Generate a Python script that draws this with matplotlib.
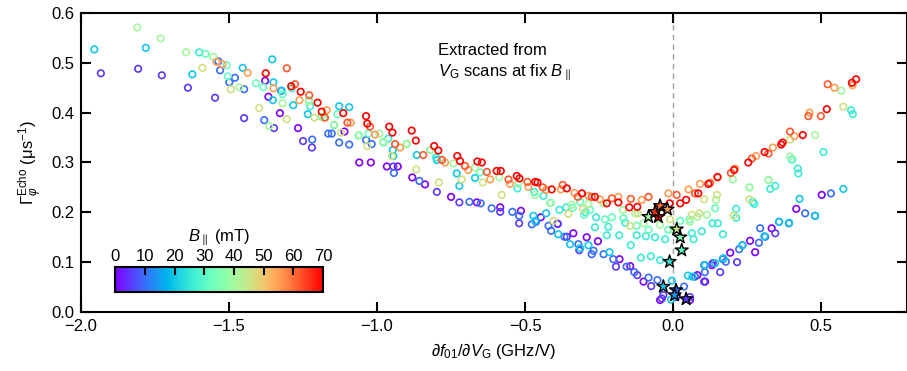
import numpy as np
import matplotlib
matplotlib.use("Agg")
import matplotlib.pyplot as plt
from matplotlib import cm, colors, ticker

plt.rcParams['font.family'] = ['Liberation Sans', 'DejaVu Sans']
plt.rcParams['mathtext.fontset'] = 'custom'
plt.rcParams['mathtext.rm'] = 'Liberation Sans'
plt.rcParams['mathtext.it'] = 'Liberation Sans:italic'
plt.rcParams['mathtext.bf'] = 'Liberation Sans:bold'

# ---- data: (B field in mT, dfdV, Gamma) per scan ----
b0_x = [-1.378, -1.367, -1.328, -1.267, -1.11, -1.06, -1.021, -0.967, -0.93, -0.881, -0.838, -0.75, -0.663,
        -0.584, -0.514, -0.447, -0.39, -0.337, -0.292, -0.254, -0.181, -0.145, -0.1, -0.044, 0.057, 0.082,
        0.108, 0.131, 0.193, 0.26, 0.277, 0.333, 0.416, 0.502]
b0_y = [0.464, 0.432, 0.399, 0.369, 0.362, 0.30, 0.30, 0.292, 0.292, 0.27, 0.256, 0.231, 0.22,
        0.21, 0.203, 0.19, 0.177, 0.158, 0.15, 0.142, 0.106, 0.092, 0.061, 0.024, 0.024, 0.074,
        0.061, 0.094, 0.119, 0.143, 0.12, 0.168, 0.207, 0.235]

b5_x = [-1.933, -1.807, -1.727, -1.639, -1.547, -1.449, -1.348, -1.25, -1.22, -0.945, -0.798, -0.722, -0.584,
        -0.52, -0.39, -0.359, -0.317, -0.193, -0.121, -0.074, -0.038, -0.033, 0.01, 0.057, 0.105, 0.134,
        0.159, 0.216, 0.345]
b5_y = [0.479, 0.488, 0.475, 0.45, 0.43, 0.389, 0.369, 0.343, 0.33, 0.292, 0.241, 0.22, 0.201,
        0.178, 0.177, 0.151, 0.124, 0.091, 0.074, 0.052, 0.027, 0.034, 0.03, 0.03, 0.061, 0.098,
        0.08, 0.10, 0.158]

b10_x = [-1.536, -1.53, -1.499, -1.48, -1.449, -1.381, -1.324, -1.219, -1.165, -1.153, -1.128, -1.094,
         -1.037, -1.018, -0.943, -0.857, -0.688, -0.65, -0.613, -0.543, -0.52, -0.477, -0.463, -0.421,
         -0.412, -0.367, -0.32, -0.275, -0.269, -0.235, -0.202, -0.157, -0.131, -0.083, -0.053, 0.037,
         0.074, 0.105, 0.107, 0.168, 0.178, 0.223, 0.234, 0.29, 0.294, 0.311, 0.358, 0.391, 0.446, 0.479, 0.533]
b10_y = [0.503, 0.485, 0.461, 0.47, 0.447, 0.385, 0.444, 0.346, 0.358, 0.358, 0.34, 0.336,
         0.345, 0.337, 0.279, 0.263, 0.221, 0.218, 0.208, 0.201, 0.193, 0.176, 0.181, 0.173,
         0.163, 0.151, 0.136, 0.116, 0.123, 0.116, 0.106, 0.091, 0.08, 0.069, 0.064, 0.051,
         0.071, 0.094, 0.08, 0.106, 0.101, 0.126, 0.134, 0.139, 0.168, 0.151, 0.181, 0.178, 0.198, 0.193, 0.238]

b20_x = [-1.955, -1.781, -1.624, -1.454, -1.354, -1.35, -1.322, -1.352, -1.283, -1.234, -1.128, -1.094,
         -0.947, -0.945, -0.866, -0.798, -0.731, -0.722, -0.669, -0.472, -0.466, -0.429, -0.388, -0.348,
         -0.314, -0.286, -0.215, -0.004, -0.007, 0.05, 0.065, 0.108, 0.142, 0.17, 0.234, 0.308, 0.358,
         0.392, 0.427, 0.48, 0.575]
b20_y = [0.527, 0.53, 0.477, 0.49, 0.507, 0.461, 0.444, 0.425, 0.415, 0.397, 0.413, 0.411,
         0.325, 0.313, 0.315, 0.305, 0.278, 0.253, 0.269, 0.193, 0.183, 0.198, 0.156, 0.136,
         0.128, 0.134, 0.12, 0.063, 0.025, 0.073, 0.071, 0.094, 0.098, 0.108, 0.134, 0.152, 0.181,
         0.179, 0.227, 0.193, 0.247]

b26_x = [-1.601, -1.288, -1.226, -1.145, -0.962, -0.801, -0.526, -0.469, -0.438, -0.384, -0.361, -0.295,
         -0.26, -0.264, -0.219, -0.224, -0.182, -0.162, -0.143, -0.123, -0.109, -0.092, -0.075, -0.061,
         -0.044, -0.027, 0.063, 0.069, 0.097, 0.133, 0.151, 0.168, 0.213, 0.213, 0.269, 0.274, 0.328,
         0.345, 0.401, 0.421, 0.423, 0.508, 0.601, 0.607]
b26_y = [0.521, 0.449, 0.413, 0.375, 0.348, 0.31, 0.248, 0.241, 0.233, 0.205, 0.21, 0.2,
         0.19, 0.17, 0.171, 0.154, 0.154, 0.179, 0.134, 0.154, 0.109, 0.152, 0.112, 0.15,
         0.104, 0.146, 0.158, 0.146, 0.162, 0.178, 0.178, 0.156, 0.207, 0.189, 0.221, 0.217, 0.247,
         0.253, 0.306, 0.288, 0.278, 0.321, 0.405, 0.397]

b32_x = [-1.579, -1.508, -1.504, -1.409, -1.384, -1.319, -1.23, -1.189, -1.134, -1.063, -1.029, -0.979,
         -0.9, -0.821, -0.781, -0.652, -0.413, -0.339, -0.314, -0.301, -0.28, -0.23, -0.207, -0.168,
         -0.123, -0.083, -0.016, 0.024, 0.055, 0.142, 0.258, 0.322, 0.403]
b32_y = [0.518, 0.495, 0.473, 0.459, 0.451, 0.437, 0.425, 0.392, 0.397, 0.354, 0.358, 0.34,
         0.337, 0.325, 0.306, 0.28, 0.219, 0.209, 0.221, 0.195, 0.205, 0.186, 0.19, 0.188,
         0.173, 0.165, 0.165, 0.183, 0.186, 0.208, 0.25, 0.265, 0.306]

b40_x = [-1.81, -1.731, -1.645, -1.553, -1.465, -1.364, -1.319, -1.231, -1.181, -1.145, -1.06, -0.992,
         -0.979, -0.9, -0.819, -0.742, -0.669, -0.587, -0.523, -0.466, -0.416, -0.342, -0.286, -0.235,
         -0.17, -0.128, -0.1, -0.044, 0.001, 0.057, 0.082, 0.114, 0.145, 0.202, 0.258, 0.322, 0.395,
         0.48, 0.568]
b40_y = [0.571, 0.549, 0.521, 0.512, 0.451, 0.373, 0.419, 0.423, 0.39, 0.376, 0.355, 0.358,
         0.342, 0.338, 0.325, 0.298, 0.29, 0.27, 0.258, 0.235, 0.219, 0.215, 0.217, 0.218,
         0.205, 0.198, 0.178, 0.175, 0.165, 0.181, 0.191, 0.195, 0.225, 0.266, 0.25, 0.265, 0.312,
         0.355, 0.444]

b46_x = [-1.59, -1.494, -1.398, -1.305, -1.212, -1.122, -1.033, -0.95, -0.868, -0.791, -0.714, -0.643,
         -0.579, -0.404, -0.354, -0.305, -0.145, -0.119, -0.01, 0.063, 0.088, 0.105, 0.148, 0.204,
         0.258, 0.395, 0.575]
b46_y = [0.49, 0.447, 0.409, 0.387, 0.39, 0.36, 0.333, 0.313, 0.286, 0.26, 0.266, 0.26,
         0.235, 0.183, 0.197, 0.207, 0.173, 0.198, 0.186, 0.195, 0.198, 0.226, 0.235, 0.193,
         0.226, 0.346, 0.412]

b55_x = [-1.542, -1.522, -1.437, -1.35, -1.262, -1.17, -1.089, -1.007, -0.922, -0.77, -0.692, -0.618,
         -0.551, -0.489, -0.429, -0.379, -0.333, -0.286, -0.247, -0.185, -0.106, -0.016, 0.052, 0.091,
         0.15, 0.209, 0.28, 0.337, 0.41, 0.461, 0.545, 0.606]
b55_y = [0.502, 0.497, 0.48, 0.449, 0.425, 0.405, 0.38, 0.356, 0.33, 0.30, 0.285, 0.266,
         0.257, 0.251, 0.245, 0.246, 0.239, 0.233, 0.226, 0.231, 0.225, 0.238, 0.246, 0.257,
         0.27, 0.288, 0.313, 0.33, 0.353, 0.40, 0.45, 0.455]

b62_x = [-1.305, -1.277, -1.229, -1.176, -1.1, -1.024, -0.939, -0.844, -0.781, -0.703, -0.629, -0.556,
         -0.492, -0.44, -0.373, -0.322, -0.275, -0.207, -0.143, -0.083, 0.012, 0.074, 0.125, 0.195,
         0.266, 0.322, 0.395, 0.457, 0.499, 0.522]
b62_y = [0.489, 0.457, 0.435, 0.39, 0.38, 0.372, 0.337, 0.315, 0.305, 0.293, 0.281, 0.266,
         0.261, 0.25, 0.255, 0.231, 0.231, 0.228, 0.227, 0.231, 0.235, 0.238, 0.259, 0.279,
         0.308, 0.318, 0.362, 0.393, 0.393, 0.457]

b70_x = [-1.376, -1.29, -1.258, -1.201, -1.187, -1.114, -1.037, -1.033, -0.959, -0.948, -0.883, -0.869,
         -0.807, -0.793, -0.729, -0.72, -0.661, -0.646, -0.596, -0.582, -0.528, -0.519, -0.466, -0.458,
         -0.41, -0.359, -0.308, -0.264, -0.224, -0.185, -0.148, -0.121, -0.012, 0.024, 0.044, 0.085,
         0.119, 0.15, 0.206, 0.254, 0.309, 0.365, 0.37, 0.438, 0.519, 0.604, 0.618]
b70_y = [0.479, 0.453, 0.442, 0.42, 0.402, 0.399, 0.393, 0.378, 0.372, 0.36, 0.364, 0.344,
         0.333, 0.324, 0.313, 0.303, 0.302, 0.30, 0.283, 0.283, 0.273, 0.268, 0.261, 0.26,
         0.246, 0.248, 0.238, 0.231, 0.218, 0.22, 0.21, 0.211, 0.218, 0.218, 0.225, 0.238,
         0.257, 0.271, 0.285, 0.30, 0.321, 0.336, 0.34, 0.355, 0.407, 0.46, 0.467]

scans = [(0, b0_x, b0_y), (5, b5_x, b5_y), (10, b10_x, b10_y), (20, b20_x, b20_y),
         (26, b26_x, b26_y), (32, b32_x, b32_y), (40, b40_x, b40_y), (46, b46_x, b46_y),
         (55, b55_x, b55_y), (62, b62_x, b62_y), (70, b70_x, b70_y)]

# minima extracted from V_G scans at fixed B
star_x = [0.044, 0.01, 0.005, -0.033, -0.012, 0.029, 0.024, 0.012, -0.083, -0.05, -0.061, -0.044, -0.019]
star_y = [0.026, 0.044, 0.034, 0.051, 0.101, 0.124, 0.15, 0.166, 0.191, 0.191, 0.201, 0.213, 0.206]
star_b = [5, 10, 15, 20, 25, 30, 35, 45, 40, 70, 65, 60, 55]

cbar_ticks = [0, 10, 20, 30, 40, 50, 60, 70]

cmap = plt.get_cmap("rainbow")
norm = colors.Normalize(vmin=0, vmax=70)


def fmt(v, pos):
    return ("%.1f" % v).replace("-", "\u2212")


fig = plt.figure(figsize=(9.07, 3.71), dpi=100)
ax = fig.add_axes([0.0893, 0.159, 0.9107, 0.806])

ax.axvline(0, color="#a0a0a0", linestyle=(0, (4, 3)), linewidth=1.0, zorder=1)

for b, xs, ys in scans:
    ax.scatter(xs, ys, s=22, facecolors="none", edgecolors=[cmap(norm(b))], linewidths=1.2, zorder=2)

ax.scatter(star_x, star_y, marker="*", s=95, c=[cmap(norm(b)) for b in star_b],
           edgecolors="black", linewidths=1.0, zorder=3)

ax.set_xlim(-2.0, 0.79)
ax.set_ylim(0.0, 0.6)
ax.set_xticks([-2.0, -1.5, -1.0, -0.5, 0.0, 0.5])
ax.set_yticks([0.0, 0.1, 0.2, 0.3, 0.4, 0.5, 0.6])
ax.xaxis.set_major_formatter(ticker.FuncFormatter(fmt))
ax.yaxis.set_major_formatter(ticker.FuncFormatter(fmt))
ax.tick_params(direction="in", top=True, right=True, length=7, width=1.5, labelsize=12, pad=5)
for sp in ax.spines.values():
    sp.set_linewidth(1.5)

ax.set_xlabel(r"$\partial f_{01}/\partial V_\mathrm{G}$ (GHz/V)", fontsize=12, labelpad=5)
ax.set_ylabel(r"$\Gamma_\varphi^\mathrm{Echo}$ (μs$^{-1}$)", fontsize=12, labelpad=4)

ax.text(-0.795, 0.54, "Extracted from\n" + r"$V_\mathrm{G}$ scans at fix $B_\parallel$",
        fontsize=12, ha="left", va="top", linespacing=1.3)

# colorbar inset
cax = fig.add_axes([0.127, 0.213, 0.229, 0.067])
cb = fig.colorbar(cm.ScalarMappable(norm=norm, cmap=cmap), cax=cax, orientation="horizontal")
cb.set_ticks(cbar_ticks)
cax.xaxis.set_ticks_position("top")
cax.xaxis.set_label_position("top")
cax.tick_params(direction="in", length=6, width=1.5, labelsize=12, pad=2)
cb.outline.set_linewidth(1.5)
cb.set_label(r"$B_\parallel$ (mT)", fontsize=12, labelpad=6)

fig.savefig("out.png", dpi=100)
